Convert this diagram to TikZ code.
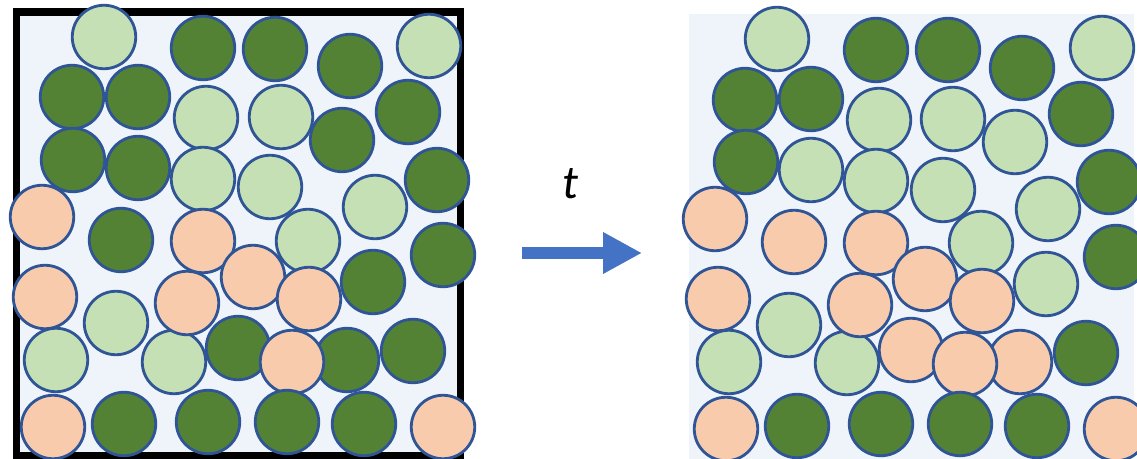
\documentclass[tikz,border=0pt]{standalone}
\usepackage{fontspec}
\setsansfont{Carlito}
\usetikzlibrary{%
   arrows.meta%
}

\definecolor{lightgrain}{HTML}{C5E0B4}
\definecolor{darkgrain}{HTML}{548235}
\definecolor{peachgrain}{HTML}{F8CBAD}
\definecolor{grainedge}{HTML}{2F5597}
\definecolor{boxfill}{HTML}{EFF4FB}
\definecolor{timearrow}{HTML}{4472C4}

\begin{document}
\begin{tikzpicture}[x=0.02cm,y=-0.02cm,grain/.style={
	circle,
	minimum size=1.27cm,
	inner sep=0pt,
	line width=1.6pt,
	draw=grainedge
	},box/.style={
	fill=boxfill
	},wall/.style={
	draw=black,line width=4.5pt
	},flow/.style={
	draw=timearrow,line width=6.8pt,
	-{Triangle[length=0.78cm,width=0.78cm]}
	}
]
\useasboundingbox (0,0) rectangle (1137,459);

% Before
\fill[box] (17,12) rectangle (460,455);
\draw[wall] (16.5,12) rectangle (460.5,455.5);
\foreach \x/\y/\c [count=\i] in {
	104/37/lightgrain, 203/48/darkgrain, 275/49/darkgrain, 350/66/darkgrain, 429/46/lightgrain,
	72/97/darkgrain, 138/97/darkgrain, 206/118/lightgrain, 281/117/lightgrain, 342/140/darkgrain, 408/112/darkgrain,
	73/160/darkgrain, 138/168/darkgrain, 203/179/lightgrain, 270/187/lightgrain, 375/207/lightgrain, 437/180/darkgrain,
	42/217/peachgrain, 121/240/darkgrain, 203/241/peachgrain, 308/241/lightgrain, 443/255/darkgrain,
	45/297/peachgrain, 253/277/peachgrain, 309/299/peachgrain, 373/282/darkgrain, 116/323/lightgrain,
	56/360/lightgrain, 174/362/lightgrain, 187/303/peachgrain, 238/348/darkgrain, 347/360/darkgrain, 413/351/darkgrain, 292/362/peachgrain,
	53/427/peachgrain, 124/424/darkgrain, 208/422/darkgrain, 287/422/darkgrain, 364/424/darkgrain, 443/427/peachgrain}
	\node (before\i) [grain,fill=\c] at (\x,\y) {};

% Time step
\coordinate (tail) at (522,253);
\coordinate (tip) at (642,253);
\draw[flow] (tail) -- (tip);
\node (tlabel) at (570,184) {\fontsize{27}{30}\selectfont\sffamily\itshape t};

% After
\fill[box] (689,14) rectangle (1134,459);
\foreach \x/\y/\c [count=\i] in {
	777/39/lightgrain, 876/50/darkgrain, 948/50/darkgrain, 1022/68/darkgrain, 1102/48/lightgrain,
	745/100/darkgrain, 811/99/darkgrain, 879/120/lightgrain, 953/119/lightgrain, 1015/142/lightgrain, 1081/114/darkgrain,
	746/162/darkgrain, 811/170/lightgrain, 876/181/lightgrain, 943/190/lightgrain, 1048/209/lightgrain, 1109/182/darkgrain,
	715/219/peachgrain, 794/242/peachgrain, 876/243/peachgrain, 981/243/lightgrain, 1116/257/darkgrain,
	718/299/peachgrain, 925/279/peachgrain, 982/301/peachgrain, 1046/284/lightgrain, 789/325/lightgrain,
	729/362/lightgrain, 847/363/lightgrain, 860/305/peachgrain, 911/350/peachgrain, 1020/362/peachgrain, 1086/353/darkgrain, 965/364/peachgrain,
	726/429/peachgrain, 797/426/darkgrain, 881/424/darkgrain, 960/424/darkgrain, 1037/426/darkgrain, 1116/429/peachgrain}
	\node (after\i) [grain,fill=\c] at (\x,\y) {};

\end{tikzpicture}
\end{document}
